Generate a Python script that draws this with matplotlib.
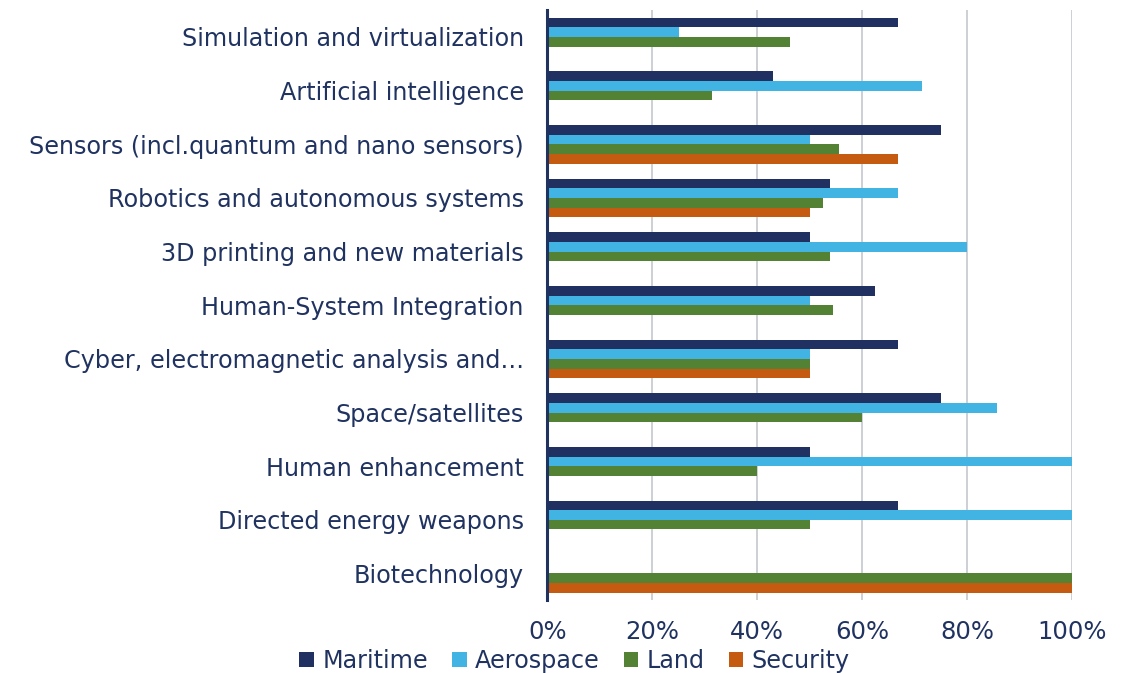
import matplotlib
matplotlib.use("Agg")
import matplotlib.pyplot as plt
import numpy as np

categories = [
    "Simulation and virtualization",
    "Artificial intelligence",
    "Sensors (incl.quantum and nano sensors)",
    "Robotics and autonomous systems",
    "3D printing and new materials",
    "Human-System Integration",
    "Cyber, electromagnetic analysis and\u2026",
    "Space/satellites",
    "Human enhancement",
    "Directed energy weapons",
    "Biotechnology",
]
maritime = [66.7, 42.9, 75.0, 53.8, 50.0, 62.5, 66.7, 75.0, 50.0, 66.7, 0]
aerospace = [25.0, 71.4, 50.0, 66.7, 80.0, 50.0, 50.0, 85.7, 100.0, 100.0, 0]
land = [46.2, 31.3, 55.6, 52.6, 53.8, 54.5, 50.0, 60.0, 40.0, 50.0, 100.0]
security = [0, 0, 66.7, 50.0, 0, 0, 50.0, 0, 0, 0, 100.0]
series_names = ["Maritime", "Aerospace", "Land", "Security"]
xticks = [0, 20, 40, 60, 80, 100]
xtick_labels = ["0%", "20%", "40%", "60%", "80%", "100%"]

colors = ["#203060", "#41B4E4", "#548235", "#C55A11"]
text_color = "#1F3260"

plt.rcParams["font.family"] = ["DejaVu Sans"]

fig = plt.figure(figsize=(11.33, 6.73), dpi=100)
ax = fig.add_axes([0.483, 0.108, 0.4635, 0.877])

y = np.arange(len(categories))
h = 0.18
data = [maritime, aerospace, land, security]
for i, (vals, name, c) in enumerate(zip(data, series_names, colors)):
    ax.barh(y + (i - 1.5) * h, vals, height=h, color=c, label=name, zorder=3)

ax.set_xlim(0, 100)
ax.set_ylim(10.5, -0.5)
ax.set_yticks(y)
ax.set_yticklabels(categories, fontsize=17.2, color=text_color)
ax.set_xticks(xticks)
ax.set_xticklabels(xtick_labels, fontsize=17.5, color=text_color)
ax.tick_params(axis="both", length=0)
ax.tick_params(axis="y", pad=17)
ax.tick_params(axis="x", pad=14)
ax.grid(axis="x", color="#BFC3CA", linewidth=1.1, zorder=0)
for s in ["top", "right", "bottom"]:
    ax.spines[s].set_visible(False)
ax.spines["left"].set_color(text_color)
ax.spines["left"].set_linewidth(2.2)
ax.spines["left"].set_zorder(4)

handles, labels = ax.get_legend_handles_labels()
leg = fig.legend(handles, labels, loc="lower center", bbox_to_anchor=(0.507, -0.032),
                 ncol=4, frameon=False, fontsize=17.2, handlelength=0.62,
                 handleheight=0.62, handletextpad=0.35, columnspacing=1.0)
for t in leg.get_texts():
    t.set_color(text_color)

fig.savefig("out.png", dpi=100)
